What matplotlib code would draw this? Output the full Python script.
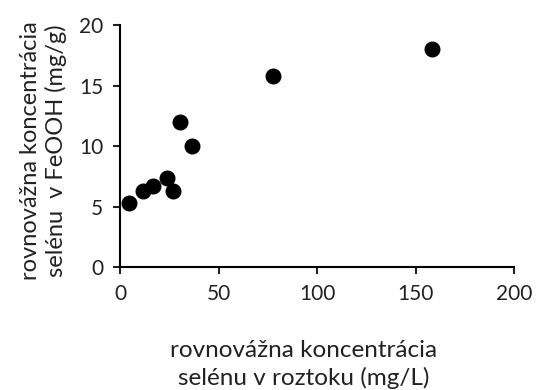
import matplotlib
matplotlib.use("Agg")
import matplotlib.pyplot as plt

# Equilibrium selenium concentration in solution vs. on FeOOH
se_solution = [4.7, 11.8, 16.5, 23.6, 26.7, 30.5, 36.4, 77.5, 158.4]   # mg/L
se_feooh = [5.3, 6.3, 6.7, 7.35, 6.3, 11.95, 10.0, 15.75, 18.0]        # mg/g

x_ticks = [0, 50, 100, 150, 200]
y_ticks = [0, 5, 10, 15, 20]

plt.rcParams["font.family"] = ["Lato", "DejaVu Sans"]

fig = plt.figure(figsize=(5.36, 3.90), dpi=100)
ax = fig.add_axes([0.224, 0.315, 0.735, 0.621])

ax.plot(se_solution, se_feooh, linestyle="none", marker="o",
        markersize=10.5, color="black")

ax.set_xlim(0, 200)
ax.set_ylim(0, 20)
ax.set_xticks(x_ticks)
ax.set_yticks(y_ticks)

for side in ("top", "right"):
    ax.spines[side].set_visible(False)
for side in ("left", "bottom"):
    ax.spines[side].set_linewidth(1.5)
    ax.spines[side].set_color("black")

ax.tick_params(axis="both", direction="out", length=5, width=1.5,
               labelsize=15, colors="#222222", pad=7)

ax.set_xlabel("rovnovážna koncentrácia\nselénu v roztoku (mg/L)",
              fontsize=17.5, color="#222222", labelpad=26, linespacing=1.35)
ax.xaxis.label.set_x(0.465)
ax.set_ylabel("rovnovážna koncentrácia\nselénu  v FeOOH (mg/g)",
              fontsize=17, color="#222222", labelpad=9, linespacing=1.2)
ax.yaxis.label.set_y(0.48)

fig.savefig("out.png", dpi=100)
